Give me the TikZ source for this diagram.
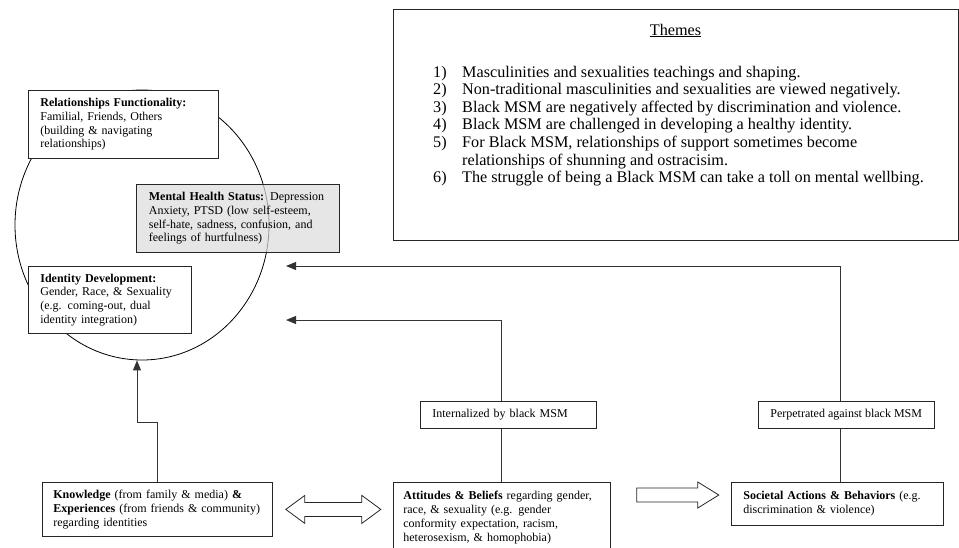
\documentclass[tikz,border=0pt]{standalone}
\usepackage{fontspec}
\setmainfont{Liberation Serif}
\usetikzlibrary{arrows.meta,shapes.geometric}
\begin{document}
\begin{tikzpicture}[x=1pt,y=-1pt,
  box/.style={draw=black!85, line width=0.8pt, fill=white, anchor=north west, inner xsep=12pt, inner ysep=0pt, align=left, font=\fontsize{12}{13.8}\selectfont},
  conn/.style={draw=black!80, line width=0.9pt},
  tip/.style={-{Triangle[length=10pt,width=8pt]}},
  hollow/.style={draw=black!85, line width=0.8pt, fill=white, line join=miter},
  theme/.style={anchor=base west, inner sep=0pt, font=\fontsize{16.2}{17.6}\selectfont}
]
\useasboundingbox (0,0) rectangle (959,547);

% circle of identity domains
\node[ellipse, draw=black, line width=0.8pt, minimum width=254pt, minimum height=270pt, inner sep=0pt] (circ) at (142,225) {};

\node[box, text width=166pt, minimum height=68pt] (rel) at (28,90)
  {\textbf{Relationships Functionality:}\\Familial, Friends, Others\\(building \& navigating\\relationships)};

\node[box, fill=black!14, fill opacity=0.7, text opacity=1, text width=178pt, inner xsep=12.5pt, minimum height=68pt] (mental) at (136,184)
  {\textbf{Mental Health Status:} Depression\\Anxiety, PTSD (low self-esteem,\\self-hate, sadness, confusion, and\\feelings of hurtfulness)};

\node[box, text width=139pt, minimum height=67pt] (ident) at (28,266)
  {\textbf{Identity Development:}\\Gender, Race, \& Sexuality\\(e.g. coming-out, dual\\identity integration)};

% bottom row
\node[box, text width=208pt, inner xsep=11pt, minimum height=54pt] (know) at (42,482)
  {\textbf{Knowledge} (from family \& media) \textbf{\&}\\\textbf{Experiences} (from friends \& community)\\regarding identities};

\node[box, text width=197pt, inner xsep=10pt, minimum height=70pt] (att) at (393,482)
  {\textbf{Attitudes \& Beliefs} regarding gender,\\race, \& sexuality (e.g. gender\\conformity expectation, racism,\\heterosexism, \& homophobia)};

\node[box, text width=188pt, minimum height=43pt] (soc) at (731,482)
  {\textbf{Societal Actions \& Behaviors} (e.g.\\discrimination \& violence)};

\node[box, text width=152pt, minimum height=27pt] (intl) at (420,401) {Internalized by black MSM};
\node[box, minimum height=27pt] (perp) at (758,401) {Perpetrated against black MSM};

% themes
\node[draw=black!85, line width=0.8pt, anchor=north west, minimum width=565pt, minimum height=231pt, inner sep=0pt] (themes) at (393,9) {};
\node[theme, anchor=base] (ttl) at (675.5,35) {\underline{Themes}};
\node[theme] (t1) at (433,77) {\makebox[29pt][l]{1)}Masculinities and sexualities teachings and shaping.};
\node[theme] (t2) at (433,94.6) {\makebox[29pt][l]{2)}Non-traditional masculinities and sexualities are viewed negatively.};
\node[theme] (t3) at (433,112.2) {\makebox[29pt][l]{3)}Black MSM are negatively affected by discrimination and violence.};
\node[theme] (t4) at (433,129.8) {\makebox[29pt][l]{4)}Black MSM are challenged in developing a healthy identity.};
\node[theme] (t5) at (433,147.4) {\makebox[29pt][l]{5)}For Black MSM, relationships of support sometimes become};
\node[theme] (t5b) at (462,165) {relationships of shunning and ostracisim.};
\node[theme] (t6) at (433,182.6) {\makebox[29pt][l]{6)}The struggle of being a Black MSM can take a toll on mental wellbing.};

% connectors
\coordinate (tipA) at (286,266);
\coordinate (tipB) at (286,320);
\coordinate (pX) at ([xshift=-6pt]perp.south);
\coordinate (pN) at ([xshift=-6pt]perp.north);
\coordinate (iX) at ([xshift=-7pt]intl.south);
\coordinate (iN) at ([xshift=-7pt]intl.north);
\draw[conn,tip] (pN) |- (tipA);
\draw[conn] (pX) -- (pX |- soc.north);
\draw[conn,tip] (iN) |- (tipB);
\draw[conn] (iX) -- (iX |- att.north);
\draw[conn,tip] (know.north) -- ++(0,-60) -| ([xshift=-5pt]circ.south);

% hollow block arrows
\draw[hollow] ([xshift=13pt]know.east) -- ++(19,-14) -- ++(0,7) -- ++(57,0) -- ++(0,-7) -- ++(19,14)
  -- ++(-19,14) -- ++(0,-7) -- ++(-57,0) -- ++(0,7) -- cycle;
\draw[hollow] ([shift={(26pt,-13pt)}]att.north east) -- ++(0,-7) -- ++(61,0) -- ++(0,-6) -- ++(21,13)
  -- ++(-21,13) -- ++(0,-6) -- ++(-61,0) -- cycle;
\end{tikzpicture}
\end{document}
